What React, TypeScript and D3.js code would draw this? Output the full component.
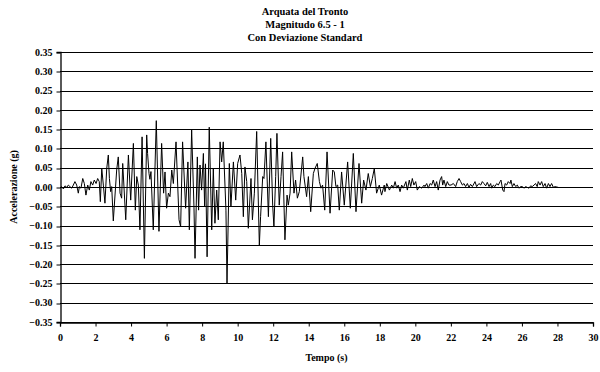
import React, { useEffect, useRef } from "react";
import * as d3 from "d3";

const titleLines = ["Arquata del Tronto", "Magnitudo 6.5 - 1", "Con Deviazione Standard"];
const xTicks = [0, 2, 4, 6, 8, 10, 12, 14, 16, 18, 20, 22, 24, 26, 28, 30];
const yTicks = [-0.35, -0.3, -0.25, -0.2, -0.15, -0.1, -0.05, 0, 0.05, 0.1, 0.15, 0.2, 0.25, 0.3, 0.35];

// [tempo (s), accelerazione (g)]
const quietStart = [
  [0.0, -0.003], [0.09, 0.001], [0.19, -0.005], [0.28, 0.003], [0.38, -0.001], [0.47, 0.005],
  [0.56, 0.001], [0.66, -0.003], [0.75, 0.005], [0.84, 0.014], [0.94, 0.005], [1.03, -0.016],
  [1.09, 0.001], [1.18, -0.003], [1.28, 0.022], [1.37, 0.009], [1.46, -0.021], [1.56, 0.005],
  [1.65, -0.008], [1.74, 0.014], [1.84, 0.005], [1.93, 0.018], [2.03, 0.009], [2.12, 0.022],
  [2.21, 0.014], [2.27, -0.038], [2.35, 0.048], [2.44, 0.005], [2.53, -0.042], [2.63, 0.048],
  [2.72, 0.083], [2.78, 0.022], [2.85, -0.012], [2.91, 0.001],
];

const strongPhase = [
  [3.0, -0.088], [3.19, 0.044], [3.28, 0.078], [3.38, -0.016], [3.47, -0.029], [3.53, 0.061],
  [3.7, -0.085], [3.85, 0.083], [3.98, -0.034], [4.13, 0.113], [4.24, -0.06], [4.32, 0.027],
  [4.41, 0.005], [4.5, -0.111], [4.62, 0.13], [4.75, -0.185], [4.88, 0.135], [4.93, 0.087],
  [5.01, 0.035], [5.06, 0.02], [5.12, 0.04], [5.25, -0.111], [5.42, 0.172], [5.57, -0.115],
  [5.72, 0.113], [5.83, -0.016], [5.91, 0.039], [6.0, -0.055], [6.1, -0.016], [6.19, -0.025],
  [6.29, 0.044], [6.38, 0.009], [6.53, 0.117], [6.7, -0.085], [6.79, -0.103], [6.9, 0.117],
  [7.07, -0.055], [7.2, 0.065], [7.28, -0.111], [7.41, 0.148], [7.54, -0.051], [7.6, -0.185],
  [7.73, 0.078], [7.8, -0.06], [7.88, 0.057], [7.97, -0.008], [8.07, 0.087], [8.14, -0.05],
  [8.19, 0.06], [8.28, -0.181], [8.4, 0.155], [8.54, -0.111], [8.63, 0.048], [8.72, -0.094],
  [8.82, -0.008], [8.91, -0.085], [9.01, 0.117], [9.1, 0.065], [9.19, 0.117], [9.34, -0.06],
  [9.4, -0.25], [9.53, 0.061], [9.62, -0.051], [9.76, 0.065], [9.89, -0.034], [10.0, 0.061],
  [10.13, 0.083], [10.23, 0.035], [10.32, -0.077], [10.41, 0.052], [10.51, 0.014], [10.6, -0.107],
  [10.75, 0.022], [10.83, -0.085], [10.94, -0.016], [11.07, 0.144], [11.22, -0.151], [11.29, -0.077],
  [11.41, 0.027], [11.48, 0.022], [11.59, 0.117], [11.73, -0.077], [11.86, 0.126], [11.97, -0.047],
  [12.04, -0.103], [12.14, 0.027], [12.21, 0.139], [12.34, -0.047], [12.44, 0.027], [12.53, 0.091],
  [12.66, -0.137], [12.78, -0.021], [12.85, -0.047], [12.95, -0.016], [13.04, 0.091], [13.17, -0.016],
  [13.26, 0.018], [13.36, -0.029], [13.47, -0.012], [13.66, 0.078], [13.73, 0.027], [13.88, -0.025],
  [13.98, 0.027], [14.11, -0.064], [14.26, 0.035], [14.35, 0.048], [14.48, 0.061], [14.6, 0.014],
  [14.69, -0.003], [14.78, 0.005], [14.9, -0.06], [15.03, 0.091], [15.2, -0.068], [15.35, 0.044],
  [15.44, 0.039], [15.53, 0.001], [15.63, 0.005], [15.72, -0.06], [15.85, 0.039], [16.0, -0.047],
  [16.19, 0.065], [16.34, -0.055], [16.51, 0.087], [16.66, -0.064], [16.83, 0.061], [16.98, -0.042],
  [17.09, 0.018], [17.22, -0.008], [17.35, 0.035], [17.47, 0.001], [17.58, 0.022], [17.69, 0.048],
  [17.82, -0.016], [17.97, 0.005], [18.1, -0.021],
];

const tail = [
  [18.25, 0.005], [18.29, -0.012], [18.39, 0.009], [18.54, -0.008], [18.67, 0.005], [18.76, -0.003],
  [18.86, 0.014], [18.95, -0.003], [19.04, 0.005], [19.14, -0.012], [19.23, 0.005], [19.32, -0.003],
  [19.47, 0.014], [19.55, -0.008], [19.66, 0.018], [19.74, 0.001], [19.83, 0.022], [19.92, 0.005],
  [20.02, 0.014], [20.11, -0.008], [20.22, 0.001], [20.36, -0.003], [20.49, 0.005], [20.54, 0.001],
  [20.64, 0.009], [20.73, -0.003], [20.83, 0.009], [20.92, 0.005], [21.01, 0.018], [21.11, 0.001],
  [21.2, 0.014], [21.29, -0.008], [21.39, 0.018], [21.48, 0.027], [21.54, 0.005], [21.61, 0.018],
  [21.71, 0.001], [21.8, 0.014], [21.89, 0.005], [22.01, 0.005], [22.14, 0.009], [22.27, 0.001],
  [22.36, 0.014], [22.46, 0.022], [22.55, 0.014], [22.65, 0.005], [22.74, 0.009], [22.83, 0.001],
  [22.93, 0.009], [23.02, -0.001], [23.11, 0.007], [23.21, 0.001], [23.36, 0.014], [23.45, 0.001],
  [23.58, 0.009], [23.68, 0.005], [23.77, 0.014], [23.86, 0.009], [23.96, 0.003], [24.05, 0.012],
  [24.15, 0.001], [24.24, 0.009], [24.3, -0.003], [24.39, 0.005], [24.48, 0.001], [24.58, 0.009],
  [24.67, 0.005], [24.77, 0.014], [24.82, 0.018], [24.92, -0.008], [24.99, -0.012], [25.05, 0.009],
  [25.14, 0.005], [25.23, 0.014], [25.33, 0.009], [25.38, 0.018], [25.46, 0.001], [25.55, 0.009],
  [25.65, 0.001], [25.74, 0.005], [25.83, -0.003], [25.93, 0.001], [26.02, 0.001], [26.12, -0.003],
  [26.21, 0.001], [26.3, -0.001], [26.4, -0.003], [26.49, 0.003], [26.58, 0.001], [26.68, 0.005],
  [26.77, 0.009], [26.86, 0.001], [26.92, 0.014], [27.02, 0.005], [27.11, 0.014], [27.2, 0.001],
  [27.3, 0.009], [27.39, -0.003], [27.49, 0.009], [27.58, 0.001], [27.67, 0.009], [27.77, -0.001],
  [27.86, 0.001], [28.05, -0.001],
];

const App = () => {
  const svgRef = useRef<SVGSVGElement>(null);

  useEffect(() => {
    const svg = d3.select(svgRef.current);
    svg.selectAll("*").remove();

    const width = 600;
    const height = 372;
    const margin = { top: 52, right: 7, bottom: 50, left: 60 };
    const font = "'Liberation Serif', 'Times New Roman', serif";

    const x = d3.scaleLinear().domain([0, 30]).range([margin.left, width - margin.right]);
    const y = d3.scaleLinear().domain([-0.35, 0.35]).range([height - margin.bottom, margin.top]);

    // title
    svg.append("g")
      .selectAll("text")
      .data(titleLines)
      .enter()
      .append("text")
      .attr("x", 305)
      .attr("y", (d, i) => 15 + i * 13)
      .attr("text-anchor", "middle")
      .attr("font-family", font)
      .attr("font-weight", "bold")
      .attr("font-size", 10.5)
      .text(d => d);

    // horizontal gridlines
    svg.append("g")
      .selectAll("line")
      .data(yTicks)
      .enter()
      .append("line")
      .attr("x1", x(0))
      .attr("x2", x(30))
      .attr("y1", d => Math.round(y(d)) + 0.5)
      .attr("y2", d => Math.round(y(d)) + 0.5)
      .attr("stroke", "#000")
      .attr("stroke-width", 1);

    const xAxis = svg.append("g")
      .attr("transform", `translate(0,${Math.round(y(-0.35)) + 0.5})`)
      .call(d3.axisBottom(x).tickValues(xTicks).tickSize(4).tickPadding(7).tickFormat(d3.format("d")));

    const yAxis = svg.append("g")
      .attr("transform", `translate(${margin.left + 0.5},0)`)
      .call(d3.axisLeft(y).tickValues(yTicks).tickSize(4).tickPadding(4).tickFormat(d3.format(".2f")));

    [xAxis, yAxis].forEach(g => {
      g.select(".domain").attr("stroke", "#000").attr("stroke-width", 1.3);
      g.selectAll(".tick line").attr("stroke", "#000");
      g.selectAll(".tick text")
        .attr("font-family", font)
        .attr("font-weight", "bold")
        .attr("font-size", 10)
        .attr("fill", "#000");
    });
    yAxis.selectAll(".tick line").attr("transform", d => `translate(0,${Math.round(y(d as number)) + 0.5 - y(d as number)})`);

    // record
    const record = [...quietStart, ...strongPhase, ...tail];
    const line = d3.line<number[]>()
      .x(d => x(d[0]))
      .y(d => y(d[1]));

    svg.append("path")
      .datum(record)
      .attr("fill", "none")
      .attr("stroke", "#000")
      .attr("stroke-width", 1)
      .attr("stroke-linejoin", "round")
      .attr("d", line);

    // axis titles
    svg.append("text")
      .attr("x", (x(0) + x(30)) / 2)
      .attr("y", 361)
      .attr("text-anchor", "middle")
      .attr("font-family", font)
      .attr("font-weight", "bold")
      .attr("font-size", 10)
      .text("Tempo (s)");

    svg.append("text")
      .attr("transform", `translate(17,${y(0)}) rotate(-90)`)
      .attr("text-anchor", "middle")
      .attr("font-family", font)
      .attr("font-weight", "bold")
      .attr("font-size", 10)
      .text("Accelerazione (g)");
  }, []);

  return (
    <svg
      ref={svgRef}
      width={600}
      height={372}
      style={{ position: "absolute", left: 0, top: 0, background: "#fff" }}
    ></svg>
  );
};

export default App;
